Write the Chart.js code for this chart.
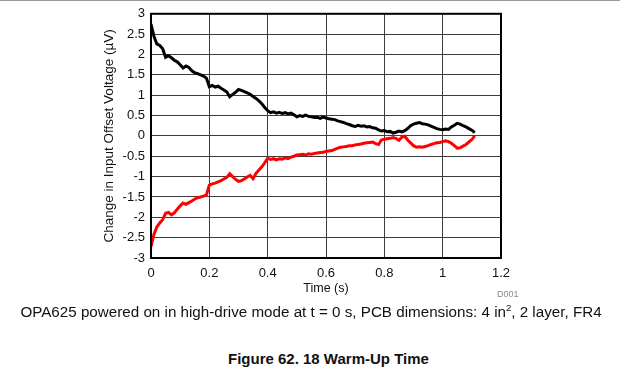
<!DOCTYPE html>
<html>
<head>
<meta charset="utf-8">
<script src="https://cdn.jsdelivr.net/npm/chart.js@4"></script>
<style>
  body { margin: 0; background: #fff; font-family: "Liberation Sans", Arial, sans-serif; }
  #page { position: relative; width: 620px; height: 374px; overflow: hidden; border-top: 1px solid #9a9a9a; box-sizing: border-box; }
  #wrap { position: absolute; left: 0; top: -1px; width: 620px; height: 300px; }
  .txt { position: absolute; white-space: nowrap; color: #111; }
</style>
</head>
<body>
<div id="page">
  <div id="wrap"><canvas id="chart"></canvas></div>
  <div class="txt" style="left:497px; top:288px; font-size:9px; color:#8a8a8a;">D001</div>
  <div class="txt" style="left:0; width:622px; text-align:center; top:301px; font-size:15.2px;">OPA625 powered on in high-drive mode at t = 0 s, PCB dimensions: 4 in<sup style="font-size:9.5px;">2</sup>, 2 layer, FR4</div>
  <div class="txt" style="left:228px; top:349px; font-size:15px; font-weight:bold;">Figure 62. 18 Warm-Up Time</div>
</div>
<script>
// sampling step of the traces (s)
const sampleStep = 0.01;

// tick labels
const xTicks = [0, 0.2, 0.4, 0.6, 0.8, 1, 1.2];
const yTicks = [-3, -2.5, -2, -1.5, -1, -0.5, 0, 0.5, 1, 1.5, 2, 2.5, 3];

// upper trace (black), µV, every 10 ms
const blackValues = [
  2.75, 2.45, 2.26, 2.22, 2.14, 1.93, 1.97, 1.92, 1.86, 1.82,
  1.75, 1.67, 1.72, 1.68, 1.60, 1.55, 1.53, 1.50, 1.47, 1.42,
  1.21, 1.24, 1.20, 1.22, 1.17, 1.13, 1.08, 0.96, 1.02, 1.07,
  1.14, 1.12, 1.09, 1.06, 1.02, 0.97, 0.92, 0.86, 0.79, 0.70,
  0.62, 0.57, 0.59, 0.56, 0.58, 0.55, 0.57, 0.54, 0.56, 0.52,
  0.47, 0.50, 0.48, 0.51, 0.48, 0.47, 0.45, 0.46, 0.43, 0.46,
  0.44, 0.42, 0.41, 0.40, 0.37, 0.35, 0.33, 0.30, 0.28, 0.25,
  0.23, 0.26, 0.24, 0.25, 0.22, 0.23, 0.20, 0.19, 0.15, 0.12,
  0.13, 0.10, 0.11, 0.07, 0.09, 0.12, 0.10, 0.13, 0.18, 0.25,
  0.29, 0.31, 0.33, 0.30, 0.29, 0.27, 0.24, 0.21, 0.18, 0.16,
  0.15, 0.17, 0.16, 0.22, 0.26, 0.31, 0.29, 0.25, 0.22, 0.18,
  0.14, 0.08
];

// lower trace (red), µV
const redValues = [
  -2.72, -2.42, -2.24, -2.14, -2.06, -1.90, -1.88, -1.94, -1.89, -1.80,
  -1.72, -1.65, -1.68, -1.64, -1.60, -1.55, -1.52, -1.50, -1.48, -1.45,
  -1.21, -1.18, -1.16, -1.13, -1.10, -1.06, -1.02, -0.93, -1.00, -1.07,
  -1.12, -1.10, -1.06, -1.01, -0.97, -1.05, -0.92, -0.84, -0.76, -0.66,
  -0.55, -0.58, -0.56, -0.59, -0.56, -0.57, -0.54, -0.56, -0.52, -0.50,
  -0.47, -0.46, -0.45, -0.47, -0.44, -0.45, -0.43, -0.42, -0.41, -0.40,
  -0.38, -0.37, -0.36, -0.33, -0.30, -0.28, -0.27, -0.26, -0.24, -0.24,
  -0.22, -0.21, -0.20, -0.18, -0.17, -0.16, -0.15, -0.19, -0.21, -0.10,
  -0.08, -0.07, -0.06, -0.04, -0.06, -0.11, -0.03, -0.01, -0.10, -0.17,
  -0.24, -0.28, -0.27, -0.28, -0.26, -0.24, -0.21, -0.19, -0.17, -0.16,
  -0.14, -0.12, -0.14, -0.18, -0.24, -0.30, -0.29, -0.25, -0.21, -0.15,
  -0.09, 0.00
];

function toPoints(values) {
  return values.map((v, i) => ({ x: +(i * sampleStep).toFixed(2), y: v }));
}

// black frame round the plot area
const frame = {
  id: 'frame',
  afterDatasetsDraw(chart) {
    const a = chart.chartArea, c = chart.ctx;
    c.save();
    c.strokeStyle = '#000';
    c.lineWidth = 2;
    c.strokeRect(a.left, a.top, a.right - a.left, a.bottom - a.top);
    c.restore();
  }
};

const font = { family: '"Liberation Sans", Arial, sans-serif', size: 13 };

new Chart(document.getElementById('chart'), {
  type: 'line',
  data: {
    datasets: [
      { data: toPoints(blackValues), borderColor: '#000', borderWidth: 3, pointRadius: 0, tension: 0 },
      { data: toPoints(redValues), borderColor: '#ff0000', borderWidth: 3, pointRadius: 0, tension: 0 }
    ]
  },
  options: {
    responsive: true,
    maintainAspectRatio: false,
    animation: false,
    layout: { padding: { left: 100, right: 119, top: 11, bottom: 0 } },
    plugins: { legend: { display: false }, tooltip: { enabled: false } },
    scales: {
      x: {
        type: 'linear', min: 0, max: 1.2,
        afterBuildTicks: s => { s.ticks = xTicks.map(v => ({ value: v })); },
        afterFit: s => { s.height = 42; },
        grid: { color: '#3c3c3c', drawTicks: false },
        border: { display: false },
        ticks: { color: '#111', font, padding: 8, callback: v => String(v) },
        title: { display: true, text: 'Time (s)', color: '#111', font: { ...font, size: 12.5 }, padding: { top: 0, bottom: 4 } }
      },
      y: {
        type: 'linear', min: -3, max: 3,
        afterBuildTicks: s => { s.ticks = yTicks.map(v => ({ value: v })); },
        afterFit: s => { s.width = 51; },
        grid: { color: '#3c3c3c', drawTicks: false },
        border: { display: false },
        ticks: { color: '#111', font, padding: 6, callback: v => String(v) },
        title: { display: true, text: 'Change in Input Offset Voltage (µV)', color: '#111', font: { ...font, size: 13.5 }, padding: { top: 1, bottom: 0 } }
      }
    }
  },
  plugins: [frame]
});
</script>
</body>
</html>
